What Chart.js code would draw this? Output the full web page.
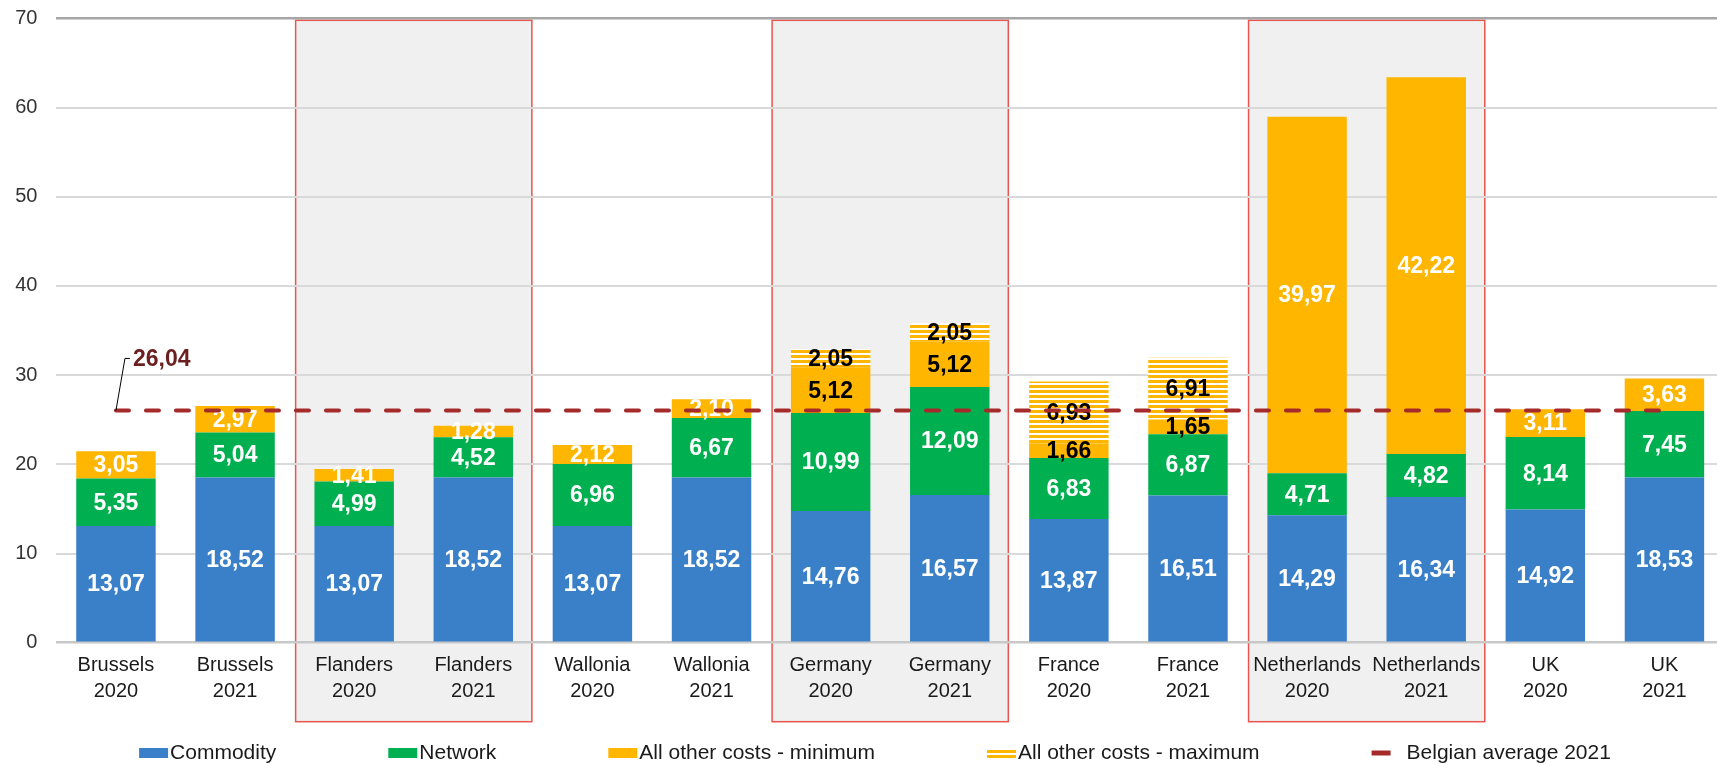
<!DOCTYPE html>
<html>
<head>
<meta charset="utf-8">
<script src="https://cdn.jsdelivr.net/npm/chart.js@4/dist/chart.umd.min.js"></script>
<style>
  html, body { margin: 0; padding: 0; background: #fff; overflow: hidden; }
  #wrap { width: 1717px; height: 764px; overflow: hidden; }
  canvas { display: block; }
</style>
</head>
<body>
<div id="wrap"><canvas id="costChart" width="1724" height="764"></canvas></div>
<script>
// ─── Data ─────────────────────────────────────────────────────────────────────

const categories = [
    ['Brussels', '2020'], ['Brussels', '2021'],
    ['Flanders', '2020'], ['Flanders', '2021'],
    ['Wallonia', '2020'], ['Wallonia', '2021'],
    ['Germany', '2020'], ['Germany', '2021'],
    ['France', '2020'], ['France', '2021'],
    ['Netherlands', '2020'], ['Netherlands', '2021'],
    ['UK', '2020'], ['UK', '2021'],
];

const commodity = [13.07, 18.52, 13.07, 18.52, 13.07, 18.52, 14.76, 16.57, 13.87, 16.51, 14.29, 16.34, 14.92, 18.53];
const network   = [5.35, 5.04, 4.99, 4.52, 6.96, 6.67, 10.99, 12.09, 6.83, 6.87, 4.71, 4.82, 8.14, 7.45];
const otherMin  = [3.05, 2.97, 1.41, 1.28, 2.12, 2.10, 5.12, 5.12, 1.66, 1.65, 39.97, 42.22, 3.11, 3.63];
const otherMax  = [null, null, null, null, null, null, 2.05, 2.05, 6.93, 6.91, null, null, null, null];
const belgianAvg = 26.04;

const yTicks = [0, 10, 20, 30, 40, 50, 60, 70];
const seriesLabels = ['Commodity', 'Network', 'All other costs - minimum', 'All other costs - maximum', 'Belgian average 2021'];

// pairs of categories that sit in a shaded frame
const framedPairs = [[2, 3], [6, 7], [10, 11]];

// ─── Styles ───────────────────────────────────────────────────────────────────

const FONT = '"Liberation Sans", Arial, sans-serif';

const colors = {
    commodity: '#3a80c9',
    network: '#00b050',
    other: '#ffb600',
    avg: '#a52a2a',
    avgLabel: '#6b1f1f',
    frame: '#f0f0f0',
    frameBorder: '#e8554e',
    text: '#1a1a1a',
};

const fmt = v => v.toFixed(2).replace('.', ',');

const canvas = document.getElementById('costChart');

function stripePattern(ctx) {
    const tile = document.createElement('canvas');
    tile.width = 8;
    tile.height = 5;
    const g = tile.getContext('2d');
    g.fillStyle = '#ffffff';
    g.fillRect(0, 0, 8, 5);
    g.fillStyle = colors.other;
    g.fillRect(0, 0, 8, 3);
    return ctx.createPattern(tile, 'repeat');
}

const stripes = stripePattern(canvas.getContext('2d'));

// ─── Plugins ──────────────────────────────────────────────────────────────────

const framePlugin = {
    id: 'pairFrames',
    beforeDraw(chart) {
        const { ctx, chartArea, scales: { x, y } } = chart;
        const half = (x.getPixelForValue(1) - x.getPixelForValue(0)) / 2;
        const top = y.getPixelForValue(yTicks[yTicks.length - 1]) + 2;
        const bottom = chartArea.bottom + 79;
        ctx.save();
        framedPairs.forEach(([a, b]) => {
            const left = x.getPixelForValue(a) - half + 1;
            const right = x.getPixelForValue(b) + half - 1;
            ctx.fillStyle = colors.frame;
            ctx.fillRect(left, top, right - left, bottom - top);
            ctx.strokeStyle = colors.frameBorder;
            ctx.lineWidth = 1.5;
            ctx.strokeRect(left, top, right - left, bottom - top);
        });
        ctx.restore();
    },
};

const segmentLabelPlugin = {
    id: 'segmentLabels',
    // drawn just before the average line so the dashes sit on top
    beforeDatasetDraw(chart, args) {
        if (args.meta.type !== 'line') return;
        const ctx = chart.ctx;
        ctx.save();
        ctx.font = `bold 23px ${FONT}`;
        ctx.textAlign = 'center';
        ctx.textBaseline = 'middle';
        chart.data.datasets.forEach((ds, di) => {
            if (ds.type === 'line') return;
            chart.getDatasetMeta(di).data.forEach((bar, i) => {
                const v = ds.data[i];
                if (v == null) return;
                const dark = di >= 2 && otherMax[i] != null;
                ctx.fillStyle = dark ? '#000000' : '#ffffff';
                ctx.fillText(fmt(v), bar.x, (bar.y + bar.base) / 2 + 1);
            });
        });
        ctx.restore();
    },
    afterDatasetsDraw(chart) {
        const ctx = chart.ctx;
        const p = chart.getDatasetMeta(4).data[0];
        ctx.save();
        ctx.strokeStyle = '#000000';
        ctx.lineWidth = 1;
        ctx.beginPath();
        ctx.moveTo(p.x, p.y);
        ctx.lineTo(p.x + 9, p.y - 52);
        ctx.lineTo(p.x + 14, p.y - 52);
        ctx.stroke();
        ctx.fillStyle = colors.avgLabel;
        ctx.font = `bold 23px ${FONT}`;
        ctx.textAlign = 'left';
        ctx.textBaseline = 'middle';
        ctx.fillText(fmt(belgianAvg), p.x + 17, p.y - 51);
        ctx.restore();
    },
};

const legendPlugin = {
    id: 'bottomLegend',
    afterDraw(chart) {
        const ctx = chart.ctx;
        const cy = 753;
        const gap = 112;
        const fills = [colors.commodity, colors.network, colors.other, stripes, colors.avg];
        ctx.save();
        ctx.font = `21px ${FONT}`;
        ctx.textBaseline = 'middle';
        ctx.textAlign = 'left';
        const items = seriesLabels.map((label, i) => {
            const isLine = i === 4;
            const markW = isLine ? 19 : 29;
            const markGap = isLine ? 16 : 2;
            return { label, fill: fills[i], isLine, markW, markGap,
                     w: markW + markGap + ctx.measureText(label).width };
        });
        const total = items.reduce((s, it) => s + it.w, 0) + gap * (items.length - 1);
        let x = 875 - total / 2;
        items.forEach(it => {
            ctx.fillStyle = it.fill;
            if (it.isLine) ctx.fillRect(x, cy - 2.5, it.markW, 5);
            else ctx.fillRect(x, cy - 5, it.markW, 10);
            ctx.fillStyle = colors.text;
            ctx.fillText(it.label, x + it.markW + it.markGap, cy);
            x += it.w + gap;
        });
        ctx.restore();
    },
};

// ─── Chart ────────────────────────────────────────────────────────────────────

const barCommon = { categoryPercentage: 1, barPercentage: 0.667, borderWidth: 0, order: 1 };

new Chart(canvas, {
    type: 'bar',
    data: {
        labels: categories,
        datasets: [
            { ...barCommon, label: seriesLabels[0], data: commodity, backgroundColor: colors.commodity },
            { ...barCommon, label: seriesLabels[1], data: network, backgroundColor: colors.network },
            { ...barCommon, label: seriesLabels[2], data: otherMin, backgroundColor: colors.other },
            { ...barCommon, label: seriesLabels[3], data: otherMax, backgroundColor: stripes },
            {
                type: 'line',
                label: seriesLabels[4],
                data: categories.map(() => belgianAvg),
                borderColor: colors.avg,
                borderWidth: 4,
                borderDash: [13, 17],
                borderCapStyle: 'round',
                pointRadius: 0,
                fill: false,
                order: 0,
            },
        ],
    },
    options: {
        responsive: false,
        animation: false,
        layout: { padding: { top: 18.3, right: 0, bottom: 0, left: 0 } },
        plugins: {
            legend: { display: false },
            tooltip: { enabled: false },
        },
        scales: {
            x: {
                stacked: true,
                grid: { display: false, drawTicks: false },
                border: { display: false },
                ticks: {
                    color: colors.text,
                    font: { family: FONT, size: 20, lineHeight: 1.3 },
                    padding: 10,
                    maxRotation: 0,
                    autoSkip: false,
                },
                afterFit: s => { s.height = 121.3; s.paddingLeft = 0; s.paddingRight = 0; },
            },
            y: {
                stacked: true,
                min: yTicks[0],
                max: yTicks[yTicks.length - 1],
                afterBuildTicks: s => { s.ticks = yTicks.map(v => ({ value: v })); },
                grid: {
                    drawTicks: false,
                    color: c => c.tick.value === 70 ? '#a6a6a6' : (c.tick.value === 0 ? '#c8c8c8' : '#d9d9d9'),
                    lineWidth: c => (c.tick.value === 70 || c.tick.value === 0) ? 2.5 : 2,
                },
                border: { display: false },
                ticks: {
                    color: '#333333',
                    font: { family: FONT, size: 20 },
                    padding: 19,
                },
                afterFit: s => { s.width = 56.4; s.paddingTop = 0; s.paddingBottom = 0; },
            },
        },
    },
    plugins: [framePlugin, segmentLabelPlugin, legendPlugin],
});
</script>
</body>
</html>
